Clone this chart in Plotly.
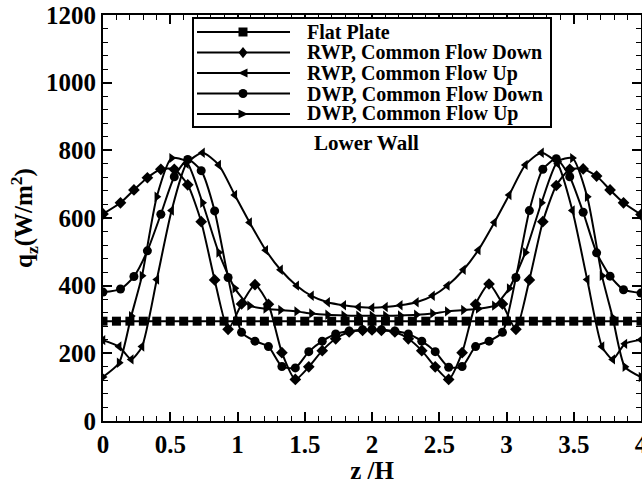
import plotly.graph_objects as go

# ---- data: lower-wall heat flux q_z (W/m^2) versus z/H ----
# stations used by the flat plate
Z_FLAT = [0.0, 0.1, 0.2, 0.3, 0.4, 0.5, 0.6, 0.7, 0.8, 0.9, 1.0, 1.1, 1.2, 1.3,
          1.4, 1.5, 1.6, 1.7, 1.8, 1.9, 2.0, 2.1, 2.2, 2.3, 2.4, 2.5, 2.6, 2.7,
          2.8, 2.9, 3.0, 3.1, 3.2, 3.3, 3.4, 3.5, 3.6, 3.7, 3.8, 3.9, 4.0]
Q_FLAT = [295, 295, 295, 295, 295, 295, 295, 295, 295, 295, 295, 295, 295, 295,
          295, 295, 295, 295, 295, 295, 295, 295, 295, 295, 295, 295, 295, 295,
          295, 295, 295, 295, 295, 295, 295, 295, 295, 295, 295, 295, 295]

# stations used by the "common flow down" cases
Z_DOWN = [0.0, 0.13, 0.23, 0.33, 0.43, 0.53, 0.63, 0.73, 0.83, 0.93, 1.03,
          1.13, 1.23, 1.33, 1.43, 1.53, 1.63, 1.73, 1.83, 1.93, 2.0,
          2.07, 2.17, 2.27, 2.37, 2.47, 2.57, 2.67, 2.77, 2.87, 2.97,
          3.07, 3.17, 3.27, 3.37, 3.47, 3.57, 3.67, 3.77, 3.87, 4.0]
Q_RWP_DOWN = [612, 645, 683, 719, 744, 744, 698, 589, 417, 271, 346,
              403, 345, 202, 123, 160, 208, 243, 263, 268, 269,
              268, 263, 243, 208, 160, 123, 202, 345, 405, 346,
              271, 417, 589, 696, 744, 745, 724, 683, 645, 610]
Q_DWP_DOWN = [381, 390, 427, 503, 611, 722, 773, 740, 621, 424, 262,
              236, 220, 161, 157, 205, 236, 257, 266, 270, 271,
              270, 266, 257, 236, 205, 159, 161, 220, 236, 262,
              424, 622, 744, 775, 722, 617, 497, 428, 388, 378]

# stations used by the "common flow up" cases
Z_UP = [0.0, 0.12, 0.21, 0.29, 0.40, 0.51, 0.62, 0.74, 0.86, 0.98, 1.09,
        1.21, 1.32, 1.44, 1.55, 1.67, 1.79, 1.90, 2.0,
        2.10, 2.21, 2.33, 2.45, 2.56, 2.68, 2.79, 2.91, 3.02, 3.14,
        3.26, 3.38, 3.49, 3.60, 3.71, 3.79, 3.88, 4.0]
Q_RWP_UP = [239, 220, 182, 220, 418, 622, 760, 793, 757, 668, 587,
            505, 447, 400, 370, 351, 342, 337, 335,
            337, 342, 351, 370, 400, 447, 505, 587, 668, 757,
            793, 760, 622, 418, 220, 182, 228, 240]
Q_DWP_UP = [130, 172, 310, 429, 663, 777, 767, 645, 498, 392, 341,
            332, 328, 324, 318, 314, 312, 311, 311,
            311, 312, 314, 318, 324, 328, 332, 341, 392, 498,
            645, 767, 777, 663, 429, 305, 160, 130]

NAMES = ["Flat Plate", "RWP, Common Flow Down", "RWP, Common Flow Up",
         "DWP, Common Flow Down", "DWP, Common Flow Up"]
SYMBOLS = ["square", "diamond", "triangle-left", "circle", "triangle-right"]
SIZES = [9, 9, 9, 9, 9]
X_TICKS = [0, 0.5, 1, 1.5, 2, 2.5, 3, 3.5, 4]
X_TICK_TEXT = ["0", "0.5", "1", "1.5", "2", "2.5", "3", "3.5", "4"]
Y_TICKS = [0, 200, 400, 600, 800, 1000, 1200]

SERIES = [
    (Z_FLAT, Q_FLAT),
    (Z_DOWN, Q_RWP_DOWN),
    (Z_UP, Q_RWP_UP),
    (Z_DOWN, Q_DWP_DOWN),
    (Z_UP, Q_DWP_UP),
]

FONT = "Liberation Serif"
W, H = 642, 484
M_L, M_R, M_T, M_B = 103, 1, 15, 63

fig = go.Figure()
for (z, q), name, sym, sz in zip(SERIES, NAMES, SYMBOLS, SIZES):
    fig.add_trace(go.Scatter(
        x=z, y=q, name=name, mode="lines+markers",
        line=dict(color="black", width=2, shape="spline", smoothing=0.6),
        marker=dict(symbol=sym, size=sz, color="black"),
        showlegend=False,
    ))

# ---- legend box drawn in paper coordinates ----
pw = W - M_L - M_R
ph = H - M_T - M_B


def px_x(px):
    return (px - M_L) / pw


def px_y(py):
    return (H - M_B - py) / ph


shapes = [dict(type="rect", xref="paper", yref="paper",
               x0=px_x(193), x1=px_x(551), y0=px_y(127), y1=px_y(18),
               line=dict(color="black", width=2), fillcolor="white",
               layer="above")]
annotations = []
rows = [32, 52.5, 73, 93.5, 114]
r = 4.5


def marker_path(sym, cx, cy):
    if sym == "square":
        pts = [(cx - r, cy - r), (cx + r, cy - r), (cx + r, cy + r), (cx - r, cy + r)]
    elif sym == "diamond":
        d = r * 1.25
        pts = [(cx, cy - d), (cx + d * 0.8, cy), (cx, cy + d), (cx - d * 0.8, cy)]
    elif sym == "triangle-left":
        pts = [(cx - r * 1.1, cy), (cx + r, cy - r), (cx + r, cy + r)]
    elif sym == "triangle-right":
        pts = [(cx + r * 1.1, cy), (cx - r, cy - r), (cx - r, cy + r)]
    else:
        return None
    return "M " + " L ".join(f"{px_x(a):.5f},{px_y(b):.5f}" for a, b in pts) + " Z"


for name, sym, py in zip(NAMES, SYMBOLS, rows):
    shapes.append(dict(type="line", xref="paper", yref="paper",
                       x0=px_x(197), x1=px_x(290), y0=px_y(py), y1=px_y(py),
                       line=dict(color="black", width=2), layer="above"))
    cx = 243
    if sym == "circle":
        shapes.append(dict(type="circle", xref="paper", yref="paper",
                           x0=px_x(cx - r), x1=px_x(cx + r),
                           y0=px_y(py + r), y1=px_y(py - r),
                           fillcolor="black", line=dict(width=0), layer="above"))
    else:
        shapes.append(dict(type="path", xref="paper", yref="paper",
                           path=marker_path(sym, cx, py),
                           fillcolor="black", line=dict(width=0), layer="above"))
    annotations.append(dict(text=name, xref="paper", yref="paper",
                            x=px_x(305), y=px_y(py), xanchor="left", yanchor="middle",
                            showarrow=False,
                            font=dict(family=FONT, size=20, color="black", weight="bold")))

annotations.append(dict(text="Lower Wall", xref="paper", yref="paper",
                        x=px_x(366), y=px_y(143), xanchor="center", yanchor="middle",
                        showarrow=False,
                        font=dict(family=FONT, size=21, color="black", weight="bold")))

axis_common = dict(
    showline=True, linecolor="black", linewidth=2, mirror="allticks",
    ticks="inside", ticklen=9, tickwidth=1.5, tickcolor="black",
    showgrid=False, zeroline=False, ticklabeloverflow="allow", automargin=False,
    tickfont=dict(family=FONT, size=25, color="black", weight="bold"),
)

fig.update_layout(
    width=W, height=H,
    margin=dict(l=M_L, r=M_R, t=M_T, b=M_B),
    paper_bgcolor="white", plot_bgcolor="white",
    showlegend=False,
    shapes=shapes, annotations=annotations,
    xaxis=dict(range=[0, 4], tickvals=X_TICKS, ticktext=X_TICK_TEXT,
               minor=dict(dtick=0.1, ticks="inside", ticklen=5, tickwidth=1, tickcolor="black"),
               title=dict(text="z /H", standoff=2,
                          font=dict(family=FONT, size=25, color="black", weight="bold")),
               **axis_common),
    yaxis=dict(range=[0, 1200], tickvals=Y_TICKS,
               minor=dict(dtick=40, ticks="inside", ticklen=5, tickwidth=1, tickcolor="black"),
               title=dict(text="q<sub>z</sub>(W/m<sup>2</sup>)", standoff=6,
                          font=dict(family=FONT, size=25, color="black", weight="bold")),
               **axis_common),
)

fig.write_html("out.html")
